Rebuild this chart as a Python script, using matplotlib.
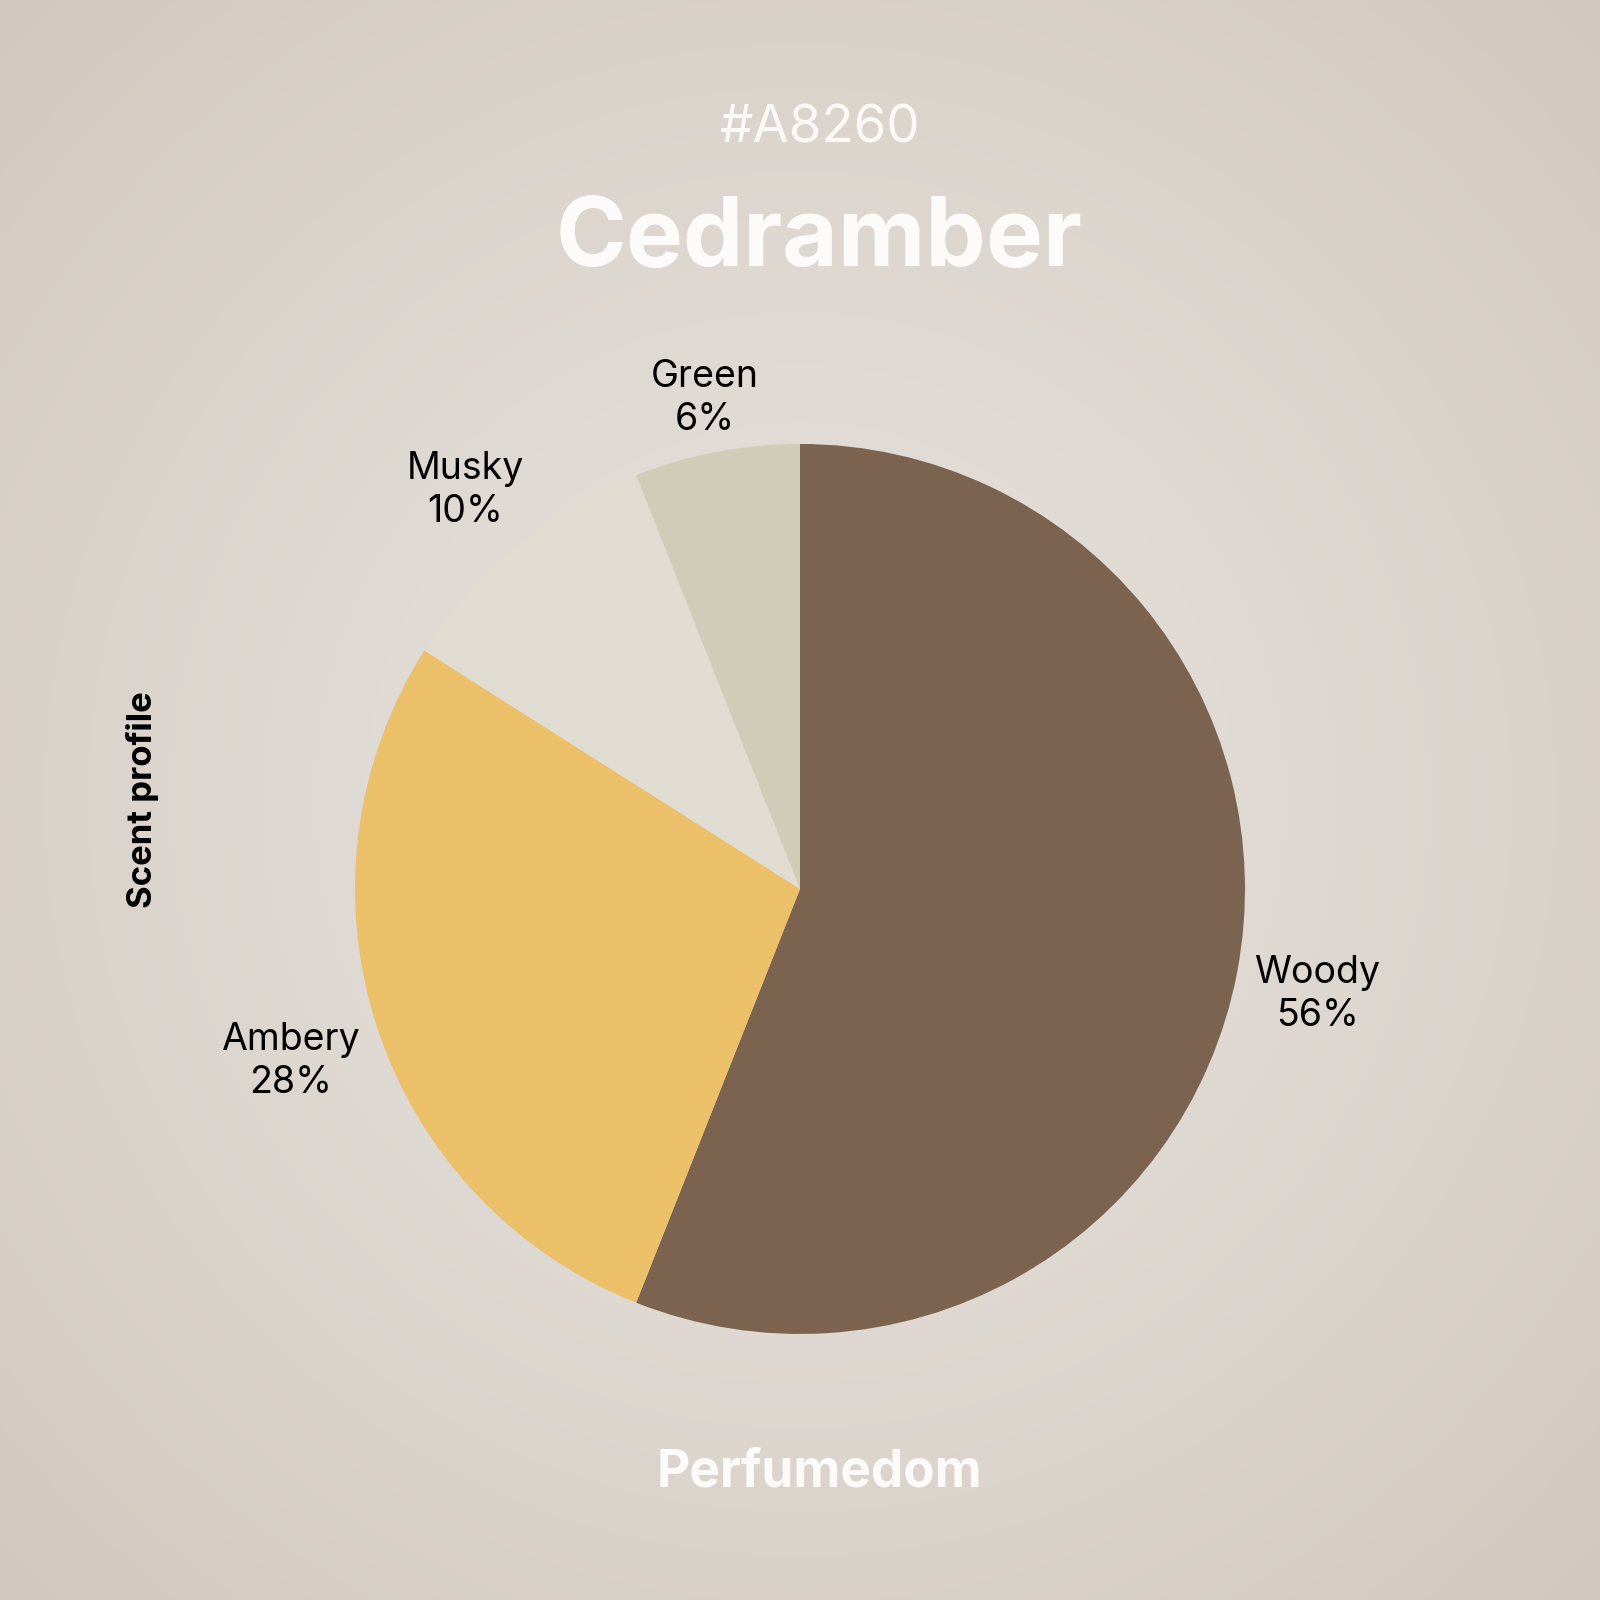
import numpy as np
import matplotlib.pyplot as plt

# scent profile data
labels = ['Woody', 'Ambery', 'Musky', 'Green']
shares = [56, 28, 10, 6]
colors = ['#7B6350', '#ECBF69', '#E0DCD1', '#CFCDB7']

code_text = '#A8260'
name_text = 'Cedramber'
side_text = 'Scent profile'
brand_text = 'Perfumedom'

plt.rcParams['font.family'] = ['Inter', 'DejaVu Sans']

fig = plt.figure(figsize=(16, 16), dpi=100)

# radial background
bg = fig.add_axes([0, 0, 1, 1], zorder=0)
yy, xx = np.mgrid[0:1:400j, 0:1:400j]
d = np.sqrt((xx - 0.5) ** 2 + (yy - 0.5) ** 2) / np.sqrt(0.5)
inner = np.array([228, 223, 218]) / 255
outer = np.array([209, 200, 191]) / 255
grad = inner + (outer - inner) * (d[..., None] ** 1.6)
bg.imshow(grad, extent=[0, 1, 0, 1], aspect='auto')
bg.axis('off')

# pie
ax = fig.add_axes([0.055, -0.0006, 0.89, 0.89], zorder=1)

wedges, texts = ax.pie(
    shares,
    labels=[f'{l}\n{s}%' for l, s in zip(labels, shares)],
    colors=colors,
    startangle=90,
    counterclock=False,
    radius=1,
    labeldistance=1.2,
    wedgeprops=dict(linewidth=0),
    textprops=dict(fontsize=27, color='black'),
)
ax.set_xlim(-1.6, 1.6)
ax.set_ylim(-1.6, 1.6)
ax.set_aspect('equal')
ax.axis('off')

# put labels just outside the wedge, like plotly does
fig.canvas.draw()
rend = fig.canvas.get_renderer()
px = ax.transData.transform((1, 0))[0] - ax.transData.transform((0, 0))[0]
gap = 0.028
for w, t in zip(wedges, texts):
    t.set_horizontalalignment('center')
    t.set_verticalalignment('center')
    t.set_multialignment('center')
    t.set_linespacing(1.25)
    bb = t.get_window_extent(rend)
    hw = bb.width / 2 / px
    hh = bb.height / 2 / px
    a = np.deg2rad((w.theta1 + w.theta2) / 2)
    dist = 1 + gap + abs(np.cos(a)) * hw + abs(np.sin(a)) * hh
    t.set_position((dist * np.cos(a), dist * np.sin(a) - 0.015))

# titles
fig.text(0.512, 0.911, code_text, ha='center', va='baseline',
         fontsize=38, fontweight='normal', color='#FBF9F7')
fig.text(0.512, 0.834, name_text, ha='center', va='baseline',
         fontsize=69, fontweight='bold', color='#FCFBF9')
fig.text(0.089, 0.5, side_text, ha='center', va='center', rotation=90,
         fontsize=25, fontweight='bold', color='black')
fig.text(0.512, 0.071, brand_text, ha='center', va='baseline',
         fontsize=37, fontweight='bold', color='#FCFBF9')

fig.savefig('out.png', dpi=100)
